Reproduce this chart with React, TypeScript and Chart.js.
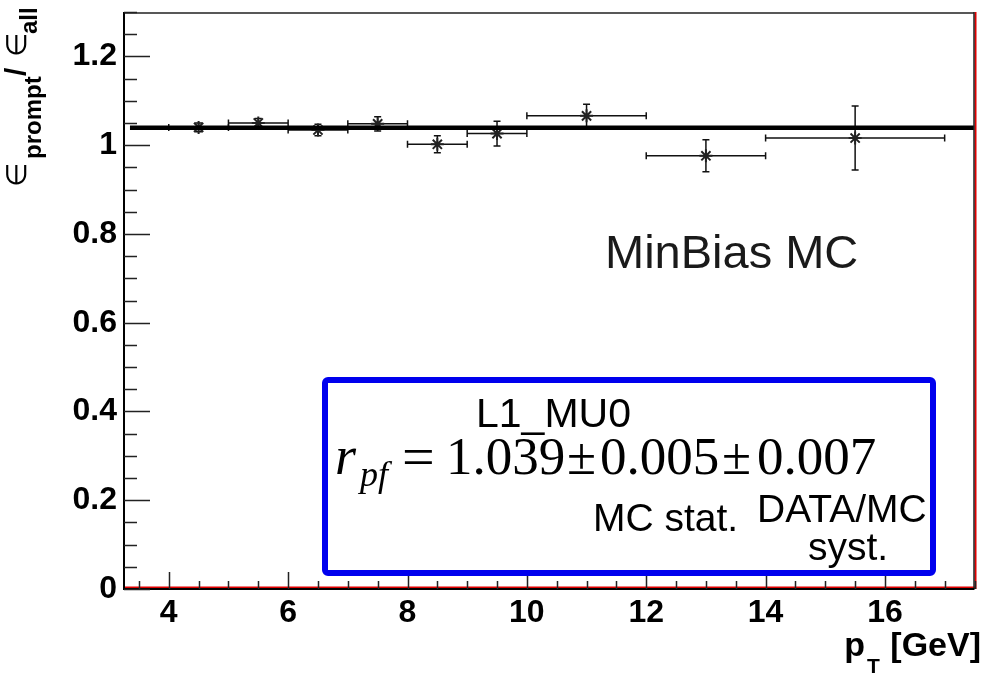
import React, { useEffect, useRef } from 'react';
import { Chart, registerables } from 'chart.js';

Chart.register(...registerables);

// pT bins (GeV)
const binCenters = [4.5, 5.5, 6.5, 7.5, 8.5, 9.5, 11, 13, 15.5];
const binLow = [4, 5, 6, 7, 8, 9, 10, 12, 14];
const binHigh = [5, 6, 7, 8, 9, 10, 12, 14, 17];
// efficiency ratio eps_prompt / eps_all
const ratio = [1.040, 1.050, 1.034, 1.048, 1.002, 1.026, 1.066, 0.976, 1.016];
const ratioErr = [0.010, 0.010, 0.013, 0.016, 0.019, 0.028, 0.026, 0.036, 0.072];
// constant fit
const fitValue = 1.039;
const fitRange = [3.35, 17.5];
// axis settings
const xMin = 3.25;
const xMax = 17.5;
const yMin = 0;
const yMax = 1.3;
const xMajorStep = 2;
const xMinorStep = 0.5;
const yMajorStep = 0.2;
const yMinorStep = 0.05;

const SANS = '"Liberation Sans", Arial, sans-serif';
const SERIF = '"Liberation Serif", "Times New Roman", serif';

export default function App() {
  const ref = useRef<HTMLCanvasElement>(null);

  useEffect(() => {
    const canvas = ref.current;
    if (!canvas) return;

    const rootStyle = {
      id: 'rootStyle',
      beforeDatasetsDraw(chart: any) {
        const ctx = chart.ctx as CanvasRenderingContext2D;
        const xs = chart.scales.x;
        const ys = chart.scales.y;
        ctx.save();
        ctx.strokeStyle = '#111';
        ctx.lineWidth = 1.5;
        const cap = 3.5;
        for (let i = 0; i < binCenters.length; i++) {
          const px = xs.getPixelForValue(binCenters[i]);
          const py = ys.getPixelForValue(ratio[i]);
          const x0 = xs.getPixelForValue(binLow[i]);
          const x1 = xs.getPixelForValue(binHigh[i]);
          const y0 = ys.getPixelForValue(ratio[i] - ratioErr[i]);
          const y1 = ys.getPixelForValue(ratio[i] + ratioErr[i]);
          ctx.beginPath();
          ctx.moveTo(x0, py); ctx.lineTo(x1, py);
          ctx.moveTo(x0, py - cap); ctx.lineTo(x0, py + cap);
          ctx.moveTo(x1, py - cap); ctx.lineTo(x1, py + cap);
          ctx.moveTo(px, y0); ctx.lineTo(px, y1);
          ctx.moveTo(px - cap, y0); ctx.lineTo(px + cap, y0);
          ctx.moveTo(px - cap, y1); ctx.lineTo(px + cap, y1);
          ctx.stroke();
        }
        ctx.restore();
      },
      afterDraw(chart: any) {
        const ctx = chart.ctx as CanvasRenderingContext2D;
        const xs = chart.scales.x;
        const ys = chart.scales.y;
        const a = chart.chartArea;
        ctx.save();

        // frame
        ctx.lineWidth = 2;
        ctx.strokeStyle = '#e00000';
        ctx.beginPath();
        ctx.moveTo(a.right + 1, a.top); ctx.lineTo(a.right + 1, a.bottom);
        ctx.moveTo(a.left, a.bottom - 1.5); ctx.lineTo(a.right, a.bottom - 1.5);
        ctx.stroke();
        ctx.strokeStyle = '#222';
        ctx.lineWidth = 1.5;
        ctx.beginPath();
        ctx.moveTo(a.left, a.top + 1); ctx.lineTo(a.right, a.top + 1);
        ctx.moveTo(a.right - 0.5, a.top); ctx.lineTo(a.right - 0.5, a.bottom);
        ctx.stroke();
        ctx.strokeStyle = '#000';
        ctx.lineWidth = 2;
        ctx.beginPath();
        ctx.moveTo(a.left, a.top); ctx.lineTo(a.left, a.bottom + 1);
        ctx.moveTo(a.left, a.bottom); ctx.lineTo(a.right, a.bottom);
        ctx.stroke();

        // inward ticks
        ctx.strokeStyle = '#222';
        ctx.lineWidth = 1.5;
        ctx.beginPath();
        const nY = Math.round((yMax - yMin) / yMinorStep);
        const perMajY = Math.round(yMajorStep / yMinorStep);
        for (let k = 0; k <= nY; k++) {
          const v = yMin + k * yMinorStep;
          const py = Math.round(ys.getPixelForValue(v)) + 0.5;
          const len = k % perMajY === 0 ? 26 : 13;
          ctx.moveTo(a.left, py); ctx.lineTo(a.left + len, py);
        }
        const firstX = Math.ceil(xMin / xMinorStep) * xMinorStep;
        const perMajX = Math.round(xMajorStep / xMinorStep);
        for (let v = firstX; v <= xMax + 1e-9; v += xMinorStep) {
          const px = Math.round(xs.getPixelForValue(v)) + 0.5;
          const isMaj = Math.round(v / xMinorStep) % perMajX === 0;
          const len = isMaj ? 17 : 8;
          ctx.moveTo(px, a.bottom); ctx.lineTo(px, a.bottom - len);
        }
        ctx.stroke();

        // x axis title
        ctx.fillStyle = '#000';
        ctx.textBaseline = 'alphabetic';
        ctx.textAlign = 'left';
        ctx.font = `bold 34px ${SANS}`;
        const gev = ' [GeV]';
        const wGev = ctx.measureText(gev).width;
        const wp = ctx.measureText('p').width;
        ctx.font = `bold 21px ${SANS}`;
        const wT = ctx.measureText('T').width;
        let tx = 981 - wGev - wT - wp - 3;
        ctx.font = `bold 34px ${SANS}`;
        ctx.fillText('p', tx, 656);
        tx += wp;
        ctx.font = `bold 21px ${SANS}`;
        ctx.fillText('T', tx + 2, 673);
        tx += wT + 3;
        ctx.font = `bold 34px ${SANS}`;
        ctx.fillText(gev, tx, 656);

        // y axis title (rotated, reads bottom to top)
        ctx.save();
        ctx.translate(26, 0);
        ctx.rotate(-Math.PI / 2);
        const seg = (t: string, font: string, screenY: number, dy: number) => {
          ctx.font = font;
          ctx.fillText(t, -screenY, dy);
        };
        seg('\u2208', `28px ${SANS}`, 187, 0);
        seg('prompt', `bold 24px ${SANS}`, 159, 15);
        seg('/', `bold 30px ${SANS}`, 76, 0);
        seg('\u2208', `28px ${SANS}`, 57, 0);
        seg('all', `bold 24px ${SANS}`, 34, 11);
        ctx.restore();

        // MinBias MC label
        ctx.fillStyle = '#1a1a1a';
        ctx.font = `47px ${SANS}`;
        ctx.fillText('MinBias MC', 605, 268);

        // result box
        ctx.fillStyle = '#fff';
        ctx.strokeStyle = '#0000ee';
        ctx.lineWidth = 6;
        ctx.beginPath();
        ctx.roundRect(325, 380, 608, 193, 3);
        ctx.fill();
        ctx.stroke();

        ctx.fillStyle = '#000';
        ctx.font = `41px ${SANS}`;
        ctx.fillText('L1_MU0', 476, 427);

        ctx.font = `italic 54px ${SERIF}`;
        ctx.fillText('r', 335, 474);
        ctx.font = `italic 36px ${SERIF}`;
        ctx.fillText('pf', 360, 486);
        ctx.font = `58px ${SERIF}`;
        ctx.fillText('=', 402, 476);
        ctx.font = `53px ${SERIF}`;
        ctx.fillText('1.039', 446, 474);
        ctx.fillText('\u00b1', 567, 474);
        ctx.fillText('0.005', 600, 474);
        ctx.fillText('\u00b1', 722, 474);
        ctx.fillText('0.007', 757, 474);

        ctx.font = `39px ${SANS}`;
        ctx.fillText('MC stat.', 593, 531);
        ctx.fillText('DATA/MC', 757, 522);
        ctx.fillText('syst.', 808, 560);

        ctx.restore();
      },
    };

    const chart = new Chart(canvas, {
      type: 'scatter',
      data: {
        datasets: [
          {
            type: 'line',
            data: fitRange.map((x) => ({ x, y: fitValue })),
            borderColor: '#000',
            borderWidth: 4.5,
            pointRadius: 0,
            fill: false,
          } as any,
          {
            type: 'scatter',
            data: binCenters.map((x, i) => ({ x, y: ratio[i] })),
            pointStyle: 'star',
            pointRadius: 6.5,
            borderWidth: 2,
            borderColor: '#222',
            backgroundColor: '#222',
          },
        ],
      },
      options: {
        responsive: false,
        animation: false,
        devicePixelRatio: 1,
        layout: { padding: { top: 12, right: 5, left: 0, bottom: 0 } },
        plugins: { legend: { display: false }, tooltip: { enabled: false } },
        scales: {
          x: {
            type: 'linear',
            min: xMin,
            max: xMax,
            grid: { display: false, drawTicks: false },
            border: { display: false },
            ticks: {
              stepSize: xMajorStep,
              includeBounds: false,
              color: '#000',
              padding: 5,
              font: { family: SANS, weight: 'bold', size: 32 },
            },
            afterFit: (s: any) => {
              s.height = 84;
              s.paddingLeft = 0;
              s.paddingRight = 0;
            },
          },
          y: {
            type: 'linear',
            min: yMin,
            max: yMax,
            grid: { display: false, drawTicks: false },
            border: { display: false },
            ticks: {
              stepSize: yMajorStep,
              includeBounds: false,
              color: '#000',
              padding: 7,
              font: { family: SANS, weight: 'bold', size: 32 },
              callback: (v: any) => String(Math.round(Number(v) * 10) / 10),
            },
            afterFit: (s: any) => {
              s.width = 124;
              s.paddingTop = 0;
              s.paddingBottom = 0;
            },
          },
        },
      },
      plugins: [rootStyle],
    });
    return () => chart.destroy();
  }, []);

  return (
    <div style={{ position: 'absolute', left: 0, top: 0, width: 983, height: 673, background: '#fff' }}>
      <canvas ref={ref} width={983} height={673} style={{ display: 'block', width: 983, height: 673 }} />
    </div>
  );
}
